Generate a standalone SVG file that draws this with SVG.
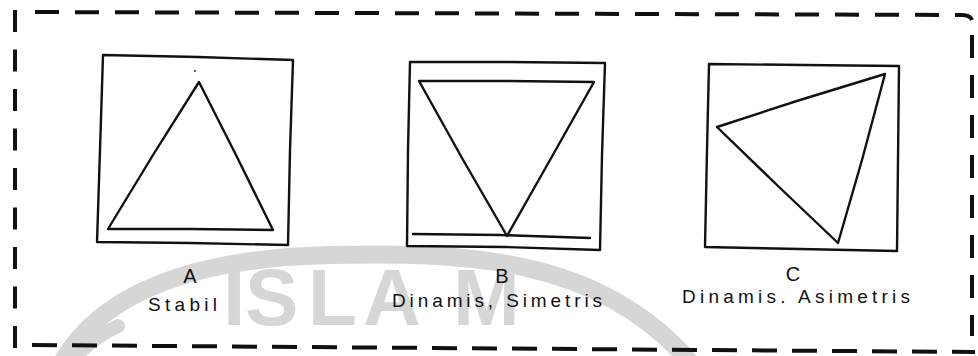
<svg xmlns="http://www.w3.org/2000/svg" width="978" height="356" viewBox="0 0 978 356">
<style>
.ink{fill:none;stroke:#111;stroke-width:2.4;stroke-linejoin:round;stroke-linecap:round}
.dash{fill:none;stroke:#111;stroke-width:4;stroke-linecap:butt}
.lbl{font-family:"Liberation Sans","DejaVu Sans",sans-serif;font-size:20px;fill:#111;text-anchor:middle}
.cap{font-family:"Liberation Sans","DejaVu Sans",sans-serif;font-size:19px;fill:#111}
.wm{fill:none;stroke:#d6d6d6;stroke-linecap:round}
</style>
<rect width="978" height="356" fill="#fff"/>
<g id="watermark">
<path class="wm" stroke-width="18" d="M62 362 C100 295 190 258 330 255 C470 252 600 258 690 362"/>
<path class="wm" stroke-width="14" d="M70 362 Q92 338 118 326"/>
<text x="223 245 308 363 453" y="325" font-family="Liberation Sans, sans-serif" font-weight="bold" font-size="80" fill="#d6d6d6">ISLAM</text>
</g>
<g id="frame">
<line class="dash" x1="15" y1="10" x2="15" y2="348" stroke-dasharray="22 17.5"/>
<line class="dash" x1="35" y1="12" x2="962" y2="15" stroke-dasharray="24 16"/>
<path class="dash" d="M962 15 Q970 15 972 20"/>
<line class="dash" x1="972" y1="35" x2="972" y2="336" stroke-dasharray="23 17"/>
<line class="dash" x1="32" y1="345" x2="975" y2="352" stroke-dasharray="25 15"/>
</g>
<g id="node-a">
<path class="ink" d="M103 55 L198 57 L293 60 L290 150 L288 245 L190 243 L97 242 L100 150 Z"/>
<path class="ink" d="M199 82 L236 155 L273 230 L190 229 L108 229 L153 155 Z"/>
<circle cx="195" cy="71" r="0.9" fill="#111"/>
<text class="lbl" x="190" y="283">A</text>
<text class="cap" x="148" y="311" textLength="69" lengthAdjust="spacing">Stabil</text>
</g>
<g id="node-b">
<path class="ink" d="M410 62 L508 62 L605 63 L602 155 L600 250 L505 247 L407 246 L408 150 Z"/>
<path class="ink" d="M419 81 L507 81 L594 82 L550 160 L507 236 L462 158 Z"/>
<path class="ink" d="M413 234 L500 235 L590 238"/>
<text class="lbl" x="502" y="283">B</text>
<text class="cap" x="392" y="307" textLength="210" lengthAdjust="spacing">Dinamis, Simetris</text>
</g>
<g id="node-c">
<path class="ink" d="M709 64 L804 65 L899 66 L898 160 L897 251 L800 249 L705 247 L707 150 Z"/>
<path class="ink" d="M717 127 L800 100 L885 74 L862 160 L838 243 L778 186 Z"/>
<text class="lbl" x="793" y="281">C</text>
<text class="cap" x="682" y="303" textLength="228" lengthAdjust="spacing">Dinamis. Asimetris</text>
</g>
</svg>
